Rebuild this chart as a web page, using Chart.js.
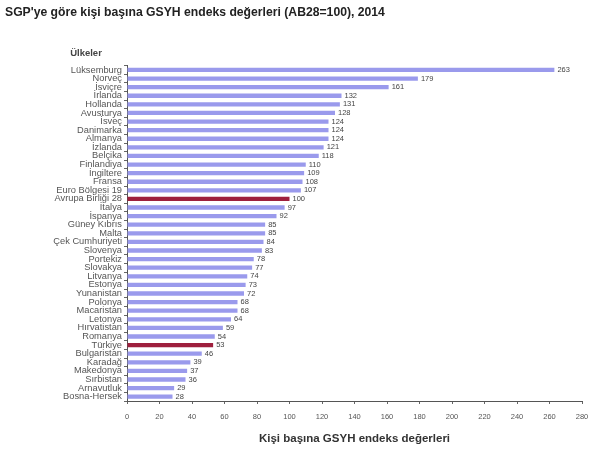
<!DOCTYPE html>
<html>
<head>
<meta charset="utf-8">
<script src="https://cdn.jsdelivr.net/npm/chart.js@4/dist/chart.umd.min.js"></script>
<style>
  html, body { margin: 0; padding: 0; background: #fff; }
  #wrap { width: 600px; height: 450px; }
</style>
</head>
<body>
<div id="wrap"><canvas id="myChart" width="600" height="450"></canvas></div>
<script>
// ülkeler, yukarıdan aşağıya
const categories = [
  "Lüksemburg", "Norveç", "İsviçre", "İrlanda", "Hollanda", "Avusturya", "İsveç",
  "Danimarka", "Almanya", "İzlanda", "Belçika", "Finlandiya", "İngiltere", "Fransa",
  "Euro Bölgesi 19", "Avrupa Birliği 28", "İtalya", "İspanya", "Güney Kıbrıs", "Malta",
  "Çek Cumhuriyeti", "Slovenya", "Portekiz", "Slovakya", "Litvanya", "Estonya",
  "Yunanistan", "Polonya", "Macaristan", "Letonya", "Hırvatistan", "Romanya", "Türkiye",
  "Bulgaristan", "Karadağ", "Makedonya", "Sırbistan", "Arnavutluk", "Bosna-Hersek"
];
const values = [
  263, 179, 161, 132, 131, 128, 124,
  124, 124, 121, 118, 110, 109, 108,
  107, 100, 97, 92, 85, 85,
  84, 83, 78, 77, 74, 73,
  72, 68, 68, 64, 59, 54, 53,
  46, 39, 37, 36, 29, 28
];
const highlighted = ["Avrupa Birliği 28", "Türkiye"];
const xTicks = [0, 20, 40, 60, 80, 100, 120, 140, 160, 180, 200, 220, 240, 260, 280];

const barColors = categories.map(c => highlighted.includes(c) ? "#9e1f3d" : "#9a9aec");
const FONT = '"Liberation Sans", Arial, sans-serif';

// değer etiketleri (çubuk ucunun sağına) ve "Ülkeler" başlığı
const valueLabels = {
  id: 'valueLabels',
  afterDatasetsDraw(chart) {
    const ctx = chart.ctx;
    const meta = chart.getDatasetMeta(0);
    ctx.save();
    ctx.font = '7.5px ' + FONT;
    ctx.fillStyle = '#444';
    ctx.textAlign = 'left';
    ctx.textBaseline = 'middle';
    meta.data.forEach((bar, i) => {
      ctx.fillText(String(values[i]), bar.x + 3, bar.y);
    });
    ctx.font = 'bold 9.5px ' + FONT;
    ctx.fillStyle = '#444';
    ctx.textAlign = 'center';
    ctx.fillText('Ülkeler', 86, 53);
    ctx.restore();
  }
};

const ctx = document.getElementById('myChart').getContext('2d');
new Chart(ctx, {
  type: 'bar',
  data: {
    labels: categories,
    datasets: [{
      data: values,
      backgroundColor: barColors,
      barPercentage: 0.5,
      categoryPercentage: 1.0
    }]
  },
  options: {
    indexAxis: 'y',
    responsive: false,
    animation: false,
    layout: { padding: { left: 5, right: 18, top: 0, bottom: 0 } },
    plugins: {
      legend: { display: false },
      tooltip: { enabled: false },
      title: {
        display: true,
        text: "SGP'ye göre kişi başına GSYH endeks değerleri (AB28=100), 2014",
        align: 'start',
        color: '#222',
        font: { family: FONT, size: 12.2, weight: 'bold' },
        padding: { top: 5, bottom: 46 }
      }
    },
    scales: {
      x: {
        min: 0,
        max: 280,
        afterBuildTicks: (scale) => { scale.ticks = xTicks.map(v => ({ value: v })); },
        grid: { drawOnChartArea: false, drawTicks: true, tickLength: 3, color: '#666' },
        border: { display: true, color: '#555', width: 1 },
        ticks: {
          color: '#555',
          padding: 8,
          font: { family: FONT, size: 7.5 }
        },
        title: {
          display: true,
          text: 'Kişi başına GSYH endeks değerleri',
          color: '#333',
          font: { family: FONT, size: 11.5, weight: 'bold' },
          padding: { top: 8, bottom: 4 }
        },
        afterFit: (scale) => { scale.height = 49; }
      },
      y: {
        grid: { drawOnChartArea: false, drawTicks: true, tickLength: 3, color: '#666' },
        border: { display: true, color: '#555', width: 1 },
        ticks: {
          color: '#555',
          padding: 2,
          autoSkip: false,
          font: { family: FONT, size: 9.3 }
        },
        afterFit: (scale) => { scale.width = 122; }
      }
    }
  },
  plugins: [valueLabels]
});
</script>
</body>
</html>
